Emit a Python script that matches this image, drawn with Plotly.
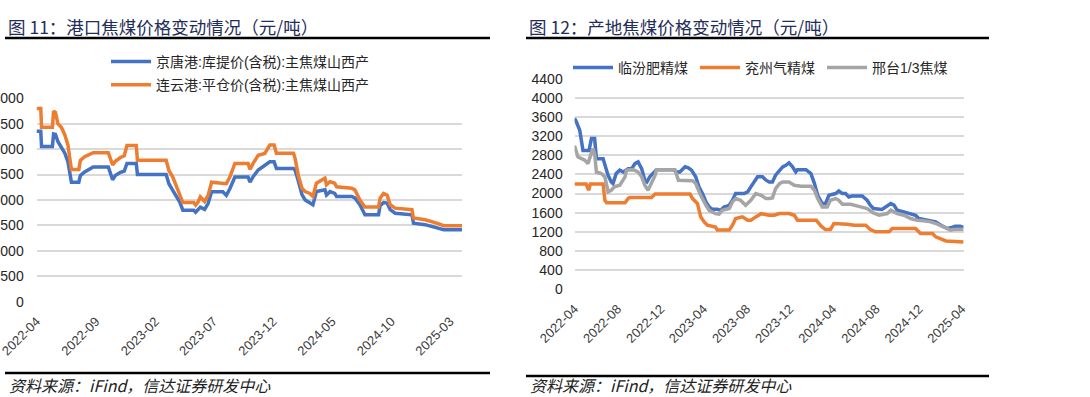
import plotly.graph_objects as go

# ---------------- Left chart: 港口焦煤价格 ----------------
left_dates = [
    "2022-04-01", "2022-04-12", "2022-04-14", "2022-05-12", "2022-05-15", "2022-05-20",
    "2022-05-26", "2022-06-04", "2022-06-13", "2022-06-21", "2022-06-27", "2022-06-30",
    "2022-07-19", "2022-07-23", "2022-08-03", "2022-08-25", "2022-10-03", "2022-10-09",
    "2022-10-14", "2022-10-21", "2022-11-02", "2022-11-13", "2022-11-20", "2022-12-14",
    "2022-12-17", "2023-03-01", "2023-03-08", "2023-03-18", "2023-03-27", "2023-04-05",
    "2023-04-13", "2023-05-11", "2023-05-16", "2023-05-22", "2023-05-28", "2023-06-08",
    "2023-06-17", "2023-06-26", "2023-07-25", "2023-08-03", "2023-08-12", "2023-08-25",
    "2023-09-28", "2023-10-03", "2023-10-11", "2023-10-24", "2023-11-10", "2023-11-23",
    "2023-12-04", "2023-12-10", "2024-01-23", "2024-01-27", "2024-02-05", "2024-02-14",
    "2024-02-22", "2024-03-05", "2024-03-13", "2024-03-22", "2024-04-13", "2024-04-17",
    "2024-04-26", "2024-05-08", "2024-05-13", "2024-06-21", "2024-06-29", "2024-07-12",
    "2024-07-25", "2024-08-29", "2024-09-02", "2024-09-11", "2024-09-20", "2024-09-28",
    "2024-10-11", "2024-11-23", "2024-11-27", "2024-12-27", "2025-01-26", "2025-02-13",
    "2025-04-01",
]
jingtang = [
    3350, 3350, 3050, 3050, 3300, 3290,
    3150, 3050, 2920, 2750, 2400, 2350,
    2350, 2480, 2550, 2650, 2650, 2490,
    2400, 2480, 2540, 2570, 2720, 2720,
    2500, 2500, 2320, 2190, 2090, 1960,
    1800, 1800, 1760, 1800, 1860, 1815,
    1930, 2160, 2160, 2090, 2220, 2450,
    2450, 2350, 2460, 2590, 2690, 2750,
    2750, 2620, 2620, 2590, 2360, 2100,
    2000, 1940, 1905, 2165, 2200, 2100,
    2165, 2130, 2070, 2070, 2040, 1905,
    1710, 1710, 1885, 1950, 1940, 1810,
    1740, 1710, 1545, 1515, 1450, 1415,
    1415,
]
lianyun = [
    3800, 3800, 3430, 3430, 3750, 3720,
    3500, 3430, 3280, 3080, 2750, 2600,
    2600, 2780, 2850, 2930, 2930, 2800,
    2690, 2760, 2830, 2870, 3070, 3070,
    2780, 2780, 2580, 2450, 2290, 2130,
    1950, 1950, 1900, 1960, 2060, 1970,
    2090, 2350, 2320, 2320, 2450, 2720,
    2720, 2600, 2720, 2880, 2915, 3080,
    3080, 2920, 2920, 2820, 2460, 2230,
    2165, 2130, 2070, 2330, 2430, 2300,
    2360, 2330, 2260, 2230, 2200, 2000,
    1860, 1860, 2035, 2130, 2100, 1905,
    1840, 1810, 1645, 1610, 1545, 1495,
    1495,
]

# ---------------- Right chart: 产地焦煤价格 ----------------
linfen_dates = [
    "2022-04-01", "2022-04-05", "2022-04-16", "2022-04-25", "2022-05-12", "2022-05-19",
    "2022-05-28", "2022-06-02", "2022-06-21", "2022-06-26", "2022-07-05", "2022-07-14",
    "2022-07-19", "2022-07-28", "2022-08-07", "2022-08-17", "2022-08-31", "2022-09-10",
    "2022-09-19", "2022-09-28", "2022-10-08", "2022-10-17", "2022-10-23", "2022-10-31",
    "2022-11-10", "2022-11-19", "2023-01-05", "2023-01-15", "2023-01-24", "2023-02-08",
    "2023-02-17", "2023-02-26", "2023-03-10", "2023-03-19", "2023-03-29", "2023-04-08",
    "2023-04-17", "2023-04-26", "2023-05-10", "2023-05-20", "2023-05-29", "2023-06-13",
    "2023-06-22", "2023-07-01", "2023-07-25", "2023-08-04", "2023-08-13", "2023-08-22",
    "2023-09-01", "2023-09-15", "2023-09-25", "2023-10-04", "2023-10-13", "2023-10-22",
    "2023-11-02", "2023-11-11", "2023-11-20", "2023-11-29", "2023-12-09", "2023-12-18",
    "2023-12-23", "2024-01-16", "2024-01-30", "2024-02-09", "2024-02-18", "2024-03-02",
    "2024-03-11", "2024-03-21", "2024-04-09", "2024-04-18", "2024-04-28", "2024-05-07",
    "2024-05-16", "2024-05-25", "2024-06-23", "2024-07-07", "2024-07-16", "2024-07-25",
    "2024-08-18", "2024-09-02", "2024-09-12", "2024-09-21", "2024-09-30", "2024-10-19",
    "2024-11-07", "2024-11-21", "2024-11-30", "2024-12-24", "2025-01-17", "2025-02-01",
    "2025-02-19", "2025-03-03", "2025-03-13", "2025-03-27", "2025-04-06",
]
linfen = [
    3570, 3520, 3320, 2900, 2900, 3150,
    3150, 2730, 2730, 2590, 2380, 2245,
    2210, 2420, 2490, 2450, 2520, 2520,
    2625, 2660, 2520, 2280, 2245, 2350,
    2420, 2500, 2500, 2450, 2450, 2560,
    2540, 2490, 2350, 2140, 2000, 1826,
    1720, 1670, 1670, 1650, 1720, 1755,
    1860, 2000, 2000, 2035, 2140, 2245,
    2350, 2350, 2280, 2243, 2243, 2383,
    2487, 2557, 2590, 2640, 2557, 2452,
    2500, 2500, 2417, 2209, 1965, 1791,
    1791, 1965, 2000, 2056, 2000, 2000,
    1930, 1950, 1950, 1860, 1756, 1687,
    1666, 1736, 1791, 1760, 1652, 1617,
    1583, 1548, 1478, 1443, 1409, 1339,
    1270, 1290, 1318, 1318, 1290,
]

yanzhou_dates = [
    "2022-04-01", "2022-05-04", "2022-05-11", "2022-05-16", "2022-06-21", "2022-06-26",
    "2022-07-01", "2022-08-22", "2022-08-31", "2022-09-05", "2022-11-05", "2022-11-15",
    "2023-02-22", "2023-03-01", "2023-03-15", "2023-03-24", "2023-04-03", "2023-04-12",
    "2023-05-05", "2023-05-10", "2023-06-13", "2023-06-22", "2023-07-01", "2023-07-20",
    "2023-08-04", "2023-08-13", "2023-08-27", "2023-09-11", "2023-10-04", "2023-10-18",
    "2023-11-02", "2023-11-29", "2023-12-14", "2023-12-23", "2024-02-14", "2024-02-28",
    "2024-03-11", "2024-03-25", "2024-04-04", "2024-05-02", "2024-05-12", "2024-05-31",
    "2024-07-03", "2024-07-16", "2024-07-31", "2024-09-07", "2024-09-16", "2024-11-21",
    "2024-12-05", "2025-01-08", "2025-01-17", "2025-02-15", "2025-04-06",
]
yanzhou = [
    2200, 2200, 2070, 2200, 2200, 1860,
    1810, 1810, 1900, 1920, 1920, 1990,
    1990, 1895, 1790, 1513, 1408, 1340,
    1300, 1240, 1240, 1340, 1478, 1513,
    1444, 1444, 1513, 1580, 1548, 1548,
    1583, 1583, 1548, 1443, 1443, 1318,
    1249, 1249, 1374, 1374, 1360, 1339,
    1339, 1249, 1200, 1200, 1270, 1270,
    1165, 1165, 1096, 1010, 990,
]

xingtai_dates = [
    "2022-04-01", "2022-04-11", "2022-04-21", "2022-04-30", "2022-05-09", "2022-05-19",
    "2022-05-23", "2022-05-28", "2022-06-02", "2022-06-16", "2022-06-26", "2022-07-05",
    "2022-07-14", "2022-07-23", "2022-08-07", "2022-08-22", "2022-08-26", "2022-09-14",
    "2022-09-28", "2022-10-08", "2022-10-17", "2022-10-26", "2022-11-05", "2022-11-15",
    "2022-11-19", "2023-01-10", "2023-01-20", "2023-03-01", "2023-03-10", "2023-03-24",
    "2023-04-08", "2023-04-17", "2023-05-05", "2023-05-15", "2023-05-24", "2023-06-13",
    "2023-06-22", "2023-07-01", "2023-07-15", "2023-07-29", "2023-08-13", "2023-08-27",
    "2023-09-11", "2023-09-25", "2023-10-04", "2023-10-13", "2023-10-22", "2023-11-02",
    "2023-11-11", "2023-11-29", "2023-12-14", "2024-01-02", "2024-01-30", "2024-02-09",
    "2024-02-18", "2024-03-02", "2024-03-16", "2024-03-25", "2024-04-09", "2024-04-18",
    "2024-04-28", "2024-05-21", "2024-06-19", "2024-07-07", "2024-07-25", "2024-08-10",
    "2024-09-02", "2024-09-12", "2024-09-30", "2024-10-19", "2024-11-07", "2024-11-26",
    "2024-12-14", "2025-01-03", "2025-01-22", "2025-02-10", "2025-02-28", "2025-03-08",
    "2025-04-06",
]
xingtai = [
    3000, 2765, 2730, 2700, 2625, 2835,
    2940, 2835, 2450, 2420, 2350, 2035,
    2070, 2140, 2175, 2350, 2490, 2500,
    2450, 2350, 2175, 2070, 2210, 2380,
    2500, 2500, 2280, 2270, 2210, 1965,
    1755, 1650, 1580, 1570, 1650, 1690,
    1826, 1895, 1860, 1755, 1860, 2000,
    1965, 1895, 1896, 1910, 2104, 2209,
    2243, 2243, 2174, 2153, 2153, 2070,
    1896, 1722, 1722, 1860, 1896, 1860,
    1777, 1777, 1722, 1687, 1596, 1548,
    1583, 1652, 1583, 1548, 1478, 1443,
    1430, 1409, 1360, 1304, 1235, 1249,
    1256,
]

left_names = ["京唐港:库提价(含税):主焦煤山西产", "连云港:平仓价(含税):主焦煤山西产"]
right_names = ["临汾肥精煤", "兖州气精煤", "邢台1/3焦煤"]
titles = ["图 11：港口焦煤价格变动情况（元/吨）", "图 12：产地焦煤价格变动情况（元/吨）"]
source_text = "资料来源：iFind，信达证券研发中心"

BLUE, ORANGE, GRAY = "#4472C4", "#ED7D31", "#A5A5A5"
W, H = 1090, 397
FONT = "Liberation Sans, Arial, Noto Sans CJK SC, sans-serif"


def px(x):
    return x / W


def py(y):
    return 1 - y / H


fig = go.Figure()
fig.add_trace(go.Scatter(x=left_dates, y=jingtang, name=left_names[0], mode="lines",
                         line=dict(color=BLUE, width=3.5), xaxis="x", yaxis="y",
                         legend="legend", legendgroup="g1"))
fig.add_trace(go.Scatter(x=left_dates, y=lianyun, name=left_names[1], mode="lines",
                         line=dict(color=ORANGE, width=3.5), xaxis="x", yaxis="y",
                         legend="legend", legendgroup="g2"))
fig.add_trace(go.Scatter(x=linfen_dates, y=linfen, name=right_names[0], mode="lines",
                         line=dict(color=BLUE, width=3.5), xaxis="x2", yaxis="y2", legend="legend2"))
fig.add_trace(go.Scatter(x=yanzhou_dates, y=yanzhou, name=right_names[1], mode="lines",
                         line=dict(color=ORANGE, width=3.5), xaxis="x2", yaxis="y2", legend="legend2"))
fig.add_trace(go.Scatter(x=xingtai_dates, y=xingtai, name=right_names[2], mode="lines",
                         line=dict(color=GRAY, width=3.5), xaxis="x2", yaxis="y2", legend="legend2"))

xcommon = dict(type="date", tickformat="%Y-%m", tickangle=-45, showgrid=False, showline=False,
               zeroline=False, ticks="outside", ticklen=6, tickcolor="rgba(0,0,0,0)",
               tickfont=dict(size=13, color="#404040", family=FONT), automargin=False,
               fixedrange=True, ticklabeloverflow="allow")
ycommon = dict(showgrid=True, gridcolor="#D9D9D9", gridwidth=1.5, zeroline=False,
               showline=False, ticks="outside", tickcolor="rgba(0,0,0,0)",
               tickfont=dict(size=14, color="#262626", family=FONT), automargin=False,
               fixedrange=True, ticklabeloverflow="allow")

fig.update_layout(
    width=W, height=H, autosize=False,
    margin=dict(l=0, r=0, t=0, b=0),
    paper_bgcolor="white", plot_bgcolor="white",
    font=dict(family=FONT, color="#262626"),
    xaxis=dict(xcommon, domain=[px(36.5), px(462)], range=["2022-04-01", "2025-04-01"],
               dtick="M5", tick0="2022-04-01", anchor="y"),
    yaxis=dict(ycommon, domain=[py(301.7), py(98.3)], range=[0, 4000], dtick=500,
               ticklen=9, anchor="x"),
    xaxis2=dict(xcommon, domain=[px(574.5), px(963.6)], range=["2022-04-01", "2025-04-06"],
                dtick="M4", tick0="2022-04-01", anchor="y2"),
    yaxis2=dict(ycommon, domain=[py(289.3), py(78.7)], range=[0, 4400], dtick=400,
                ticklen=8, anchor="x2"),
    legend=dict(x=px(106), y=py(46), xanchor="left", yanchor="top", orientation="v",
                font=dict(size=14, color="#262626", family=FONT), bgcolor="rgba(0,0,0,0)",
                itemwidth=40, tracegroupgap=2),
    legend2=dict(x=px(568), y=py(52), xanchor="left", yanchor="top", orientation="h",
                 font=dict(size=14, color="#262626", family=FONT), bgcolor="rgba(0,0,0,0)",
                 itemwidth=40, entrywidth=72, entrywidthmode="pixels"),
    showlegend=True,
)

annotations = []
shapes = []
for x0, x1, title in [(5, 490, titles[0]), (526, 989, titles[1])]:
    annotations.append(dict(text=title, x=px(x0 + 1), y=py(26), xref="paper", yref="paper",
                            xanchor="left", yanchor="middle", showarrow=False,
                            font=dict(size=17.5, color="#1F2D5A", family="Noto Sans CJK SC")))
    shapes.append(dict(type="line", xref="paper", yref="paper", x0=px(x0), x1=px(x1),
                       y0=py(38), y1=py(38), line=dict(color="black", width=2.5)))
for x0, x1, yl in [(5, 490, 373), (526, 989, 376)]:
    shapes.append(dict(type="line", xref="paper", yref="paper", x0=px(x0), x1=px(x1),
                       y0=py(yl), y1=py(yl), line=dict(color="black", width=2.5)))
    annotations.append(dict(text="<i>" + source_text + "</i>", x=px(x0 + 2), y=py(385),
                            xref="paper", yref="paper", xanchor="left", yanchor="middle",
                            showarrow=False,
                            font=dict(size=16, color="#222222", family="Noto Sans CJK SC")))

fig.update_layout(annotations=annotations, shapes=shapes)
fig.write_html("out.html", config={"displayModeBar": False},
               post_script="document.body.style.margin='0';document.body.style.overflow='hidden';")
